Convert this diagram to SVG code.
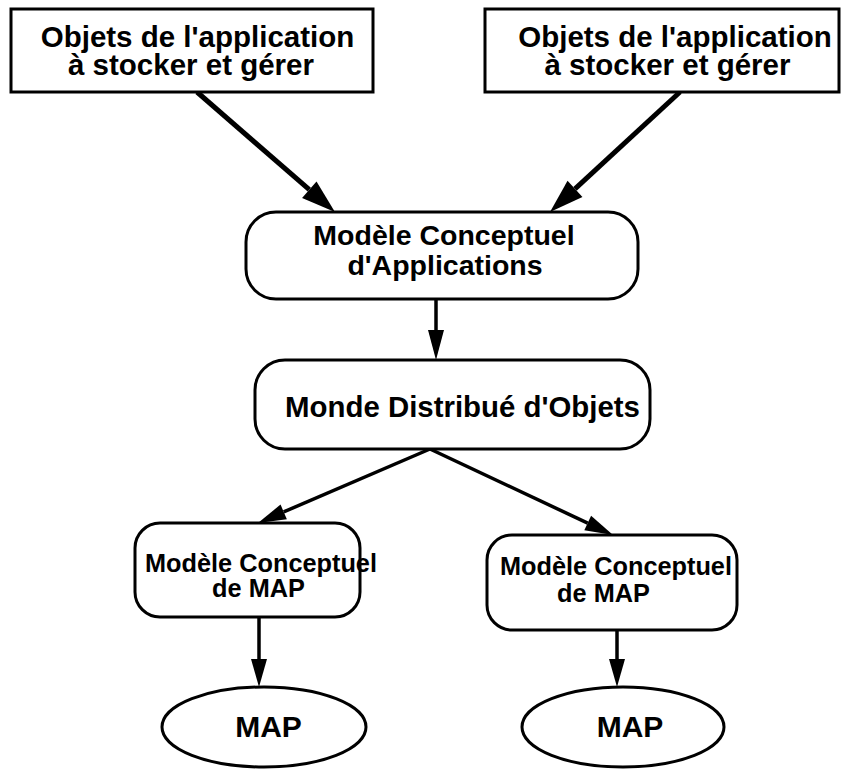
<svg xmlns="http://www.w3.org/2000/svg" width="841" height="769" viewBox="0 0 841 769">
<style>
  .box{fill:#fff;stroke:#000;stroke-width:3}
  .t{font-family:"Liberation Sans",Arial,sans-serif;font-weight:bold;fill:#000;text-anchor:middle}
  .c{stroke:#000;fill:none}
  .thick{stroke-width:5}
  .thin{stroke-width:3.5}
</style>
<defs>
  <marker id="hBig" markerUnits="userSpaceOnUse" orient="auto" markerWidth="34" markerHeight="22" refX="0" refY="11" overflow="visible">
    <path d="M0,0 L34,11 L0,22 Z" fill="#000"/>
  </marker>
  <marker id="hMed" markerUnits="userSpaceOnUse" orient="auto" markerWidth="30" markerHeight="16" refX="0" refY="8" overflow="visible">
    <path d="M0,0 L30,8 L0,16 Z" fill="#000"/>
  </marker>
  <marker id="hSm" markerUnits="userSpaceOnUse" orient="auto" markerWidth="28" markerHeight="16" refX="0" refY="8" overflow="visible">
    <path d="M0,0 L28,8 L0,16 Z" fill="#000"/>
  </marker>
</defs>
<rect width="841" height="769" fill="#fff"/>
<g id="connectors">
  <line class="c thick" x1="197" y1="92" x2="309.3" y2="189.7" marker-end="url(#hBig)"/>
  <line class="c thick" x1="680" y1="92" x2="575" y2="188.9" marker-end="url(#hBig)"/>
  <line class="c thin" x1="436" y1="299" x2="436" y2="330" marker-end="url(#hMed)"/>
  <line class="c thin" x1="430" y1="449" x2="283.7" y2="511.9" marker-end="url(#hSm)"/>
  <line class="c thin" x1="430" y1="449" x2="587.7" y2="523.1" marker-end="url(#hSm)"/>
  <line class="c thin" x1="259" y1="617" x2="259" y2="659" marker-end="url(#hSm)"/>
  <line class="c thin" x1="617" y1="630" x2="617" y2="659" marker-end="url(#hSm)"/>
</g>
<g id="objets1">
  <rect class="box" x="11" y="9" width="362" height="83"/>
  <text class="t" font-size="29.5" x="197.5" y="47">Objets de l'application</text>
  <text class="t" font-size="29.5" x="191" y="75">à stocker et gérer</text>
</g>
<g id="objets2">
  <rect class="box" x="485" y="9" width="354" height="83"/>
  <text class="t" font-size="29.5" x="675" y="47">Objets de l'application</text>
  <text class="t" font-size="29.5" x="667.5" y="75">à stocker et gérer</text>
</g>
<g id="mca">
  <rect class="box" x="246" y="212" width="392" height="87" rx="30" ry="30"/>
  <text class="t" font-size="28.5" x="444" y="245">Modèle Conceptuel</text>
  <text class="t" font-size="28.5" x="445" y="275">d'Applications</text>
</g>
<g id="mdo">
  <rect class="box" x="255" y="360" width="395" height="89" rx="30" ry="30"/>
  <text class="t" font-size="29.4" x="462.5" y="417">Monde Distribué d'Objets</text>
</g>
<g id="mcmap1">
  <rect class="box" x="135" y="523" width="225" height="94" rx="25" ry="25"/>
  <text class="t" font-size="25.3" x="261" y="572">Modèle Conceptuel</text>
  <text class="t" font-size="25.3" x="258.5" y="597">de MAP</text>
</g>
<g id="mcmap2">
  <rect class="box" x="487" y="535" width="250" height="95" rx="25" ry="25"/>
  <text class="t" font-size="25.3" x="616" y="575">Modèle Conceptuel</text>
  <text class="t" font-size="25.3" x="603.5" y="602">de MAP</text>
</g>
<g id="map1">
  <ellipse class="box" cx="264" cy="727" rx="102" ry="40"/>
  <text class="t" font-size="30" x="268.5" y="737">MAP</text>
</g>
<g id="map2">
  <ellipse class="box" cx="623" cy="727" rx="101" ry="40"/>
  <text class="t" font-size="30" x="630" y="737">MAP</text>
</g>
</svg>
